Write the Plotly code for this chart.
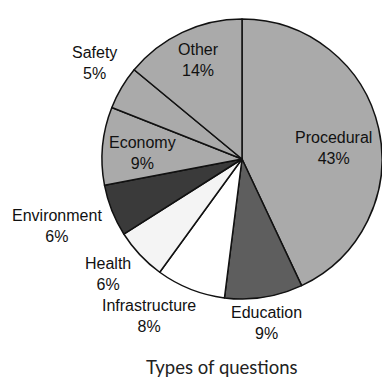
import plotly.graph_objects as go

# Question categories, clockwise from 12 o'clock
categories = ["Procedural", "Education", "Infrastructure", "Health",
              "Environment", "Economy", "Safety", "Other"]
shares = [43, 9, 8, 6, 6, 9, 5, 14]
slice_colors = ["#aaaaaa", "#5e5e5e", "#ffffff", "#f4f4f4",
                "#3a3a3a", "#aaaaaa", "#aaaaaa", "#aaaaaa"]

W, H = 382, 388
# Pie placement in pixels: centre and radius
CX, CY, R = 242, 159, 140

# Label block centres (pixels)
label_pos = {
    "Procedural": (333, 148),
    "Education": (266, 323),
    "Infrastructure": (149, 316),
    "Health": (108, 274),
    "Environment": (57, 226),
    "Economy": (142, 153),
    "Safety": (94, 63),
    "Other": (198, 60),
}

fig = go.Figure(go.Pie(
    labels=categories,
    values=shares,
    sort=False,
    direction="clockwise",
    rotation=0,
    marker=dict(colors=slice_colors, line=dict(color="#111111", width=1.5)),
    textinfo="none",
    hoverinfo="label+percent",
    showlegend=False,
    domain=dict(x=[(CX - R) / W, (CX + R) / W],
                y=[1 - (CY + R) / H, 1 - (CY - R) / H]),
))

for name, val in zip(categories, shares):
    px, py = label_pos[name]
    fig.add_annotation(
        x=px / W, y=1 - py / H, xref="paper", yref="paper",
        text=f"{name}<br>{val}%", showarrow=False,
        xanchor="center", yanchor="middle", align="center",
        font=dict(family="Arial, Liberation Sans, sans-serif", size=16, color="#111111"),
    )

fig.add_annotation(
    x=222 / W, y=1 - 367 / H, xref="paper", yref="paper",
    text="Types of questions", showarrow=False,
    xanchor="center", yanchor="middle",
    font=dict(family="Lato, sans-serif", size=18.5, color="#222222"),
)

fig.update_layout(
    width=W, height=H, autosize=False,
    margin=dict(l=0, r=0, t=0, b=0),
    paper_bgcolor="white", plot_bgcolor="white",
)

fig.write_html("out.html")
